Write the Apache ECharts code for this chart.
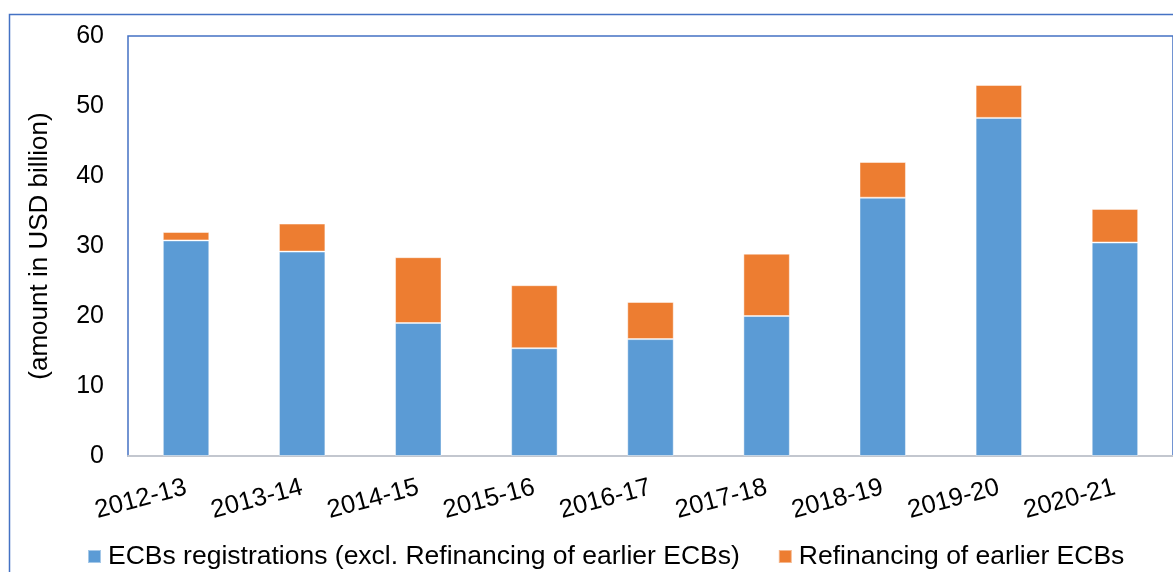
<!DOCTYPE html>
<html>
<head>
<meta charset="utf-8">
<script src="https://cdn.jsdelivr.net/npm/echarts@6/dist/echarts.min.js"></script>
<style>
  html, body { margin: 0; padding: 0; background: #fff; }
  #chart { width: 1173px; height: 572px; }
</style>
</head>
<body>
<div id="chart"></div>
<script>
// Fiscal years
const years = ['2012-13', '2013-14', '2014-15', '2015-16', '2016-17', '2017-18', '2018-19', '2019-20', '2020-21'];
// ECB registrations excluding refinancing (USD billion)
const registrations = [30.8, 29.2, 19.0, 15.4, 16.7, 20.0, 36.9, 48.3, 30.5];
// Refinancing of earlier ECBs (USD billion)
const refinancing = [1.2, 4.0, 9.4, 9.0, 5.3, 8.9, 5.1, 4.7, 4.8];
const yTicks = { min: 0, max: 60, step: 10 };

const seriesNames = ['ECBs registrations (excl. Refinancing of earlier ECBs)', 'Refinancing of earlier ECBs'];
const font = 'Liberation Sans, Arial, sans-serif';

const chart = echarts.init(document.getElementById('chart'), null, { renderer: 'canvas' });
chart.setOption({
  animation: false,
  backgroundColor: '#ffffff',
  textStyle: { fontFamily: font, color: '#000' },
  graphic: [
    { // outer chart frame
      type: 'rect', silent: true, z: -1,
      shape: { x: 9.5, y: 14.5, width: 1200, height: 600 },
      style: { fill: null, stroke: '#4472C4', lineWidth: 1.5 }
    }
  ],
  grid: {
    left: 128, top: 36, width: 1048, bottom: 116,
    show: true, borderColor: '#4472C4', borderWidth: 1.5,
    containLabel: false
  },
  legend: {
    left: 82, top: 538,
    itemWidth: 13, itemHeight: 13, itemGap: 38,
    icon: 'rect',
    textStyle: { fontFamily: font, fontSize: 26.5, color: '#000', padding: [0, 0, 0, 2] },
    data: seriesNames
  },
  xAxis: {
    type: 'category',
    data: years,
    axisLine: { show: true, lineStyle: { color: '#C3C7CF', width: 2 } },
    axisTick: { show: false },
    axisLabel: {
      rotate: 15, fontSize: 25.5, color: '#000', fontFamily: font,
      margin: 31, interval: 0
    }
  },
  yAxis: {
    type: 'value',
    min: yTicks.min, max: yTicks.max, interval: yTicks.step,
    name: '(amount in USD billion)',
    nameLocation: 'middle', nameGap: 75,
    nameTextStyle: { fontSize: 26, color: '#000', fontFamily: font },
    axisLine: { show: false },
    axisTick: { show: false },
    splitLine: { show: false },
    axisLabel: { fontSize: 25, color: '#000', margin: 24, fontFamily: font }
  },
  series: [
    {
      name: seriesNames[0], type: 'bar', stack: 'total',
      data: registrations, barWidth: '40%',
      itemStyle: { color: '#5B9BD5', borderColor: 'rgba(255,255,255,0.45)', borderWidth: 1 }
    },
    {
      name: seriesNames[1], type: 'bar', stack: 'total',
      data: refinancing, barWidth: '40%',
      itemStyle: { color: '#ED7D31', borderColor: 'rgba(255,255,255,0.45)', borderWidth: 1 }
    }
  ]
});
</script>
</body>
</html>
